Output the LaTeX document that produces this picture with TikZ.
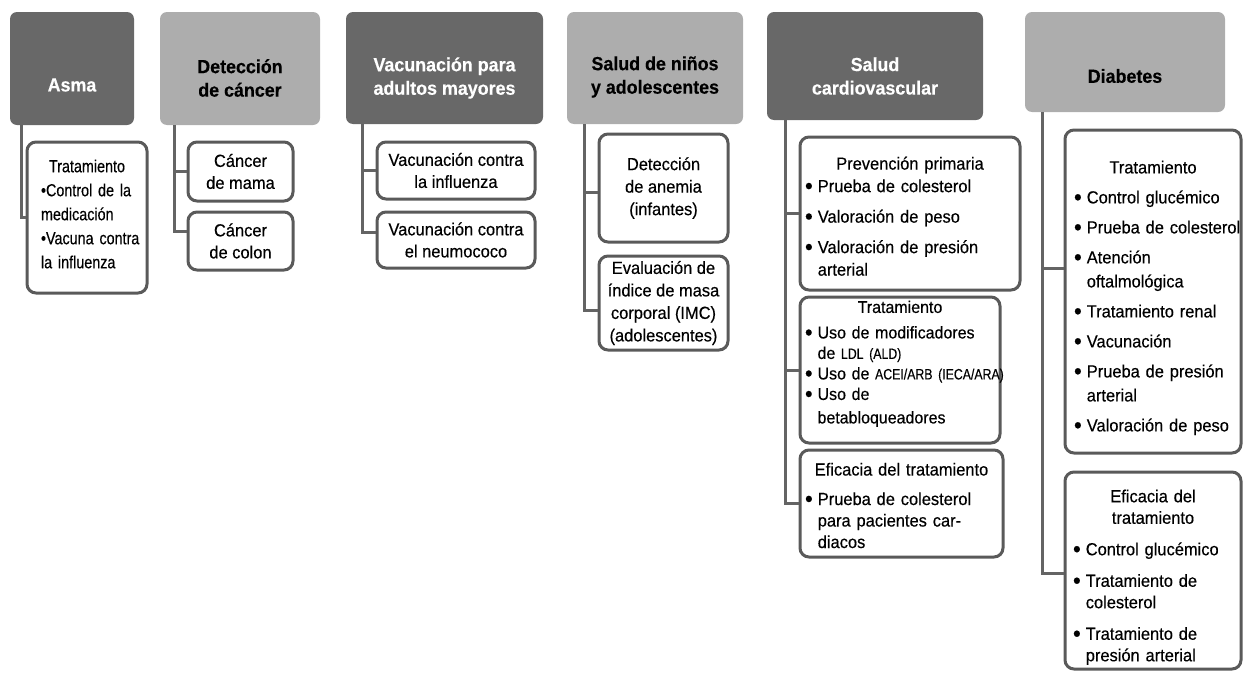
\documentclass[tikz,border=0pt]{standalone}
\usepackage{fontspec}
\setmainfont{Liberation Sans}[FakeStretch=0.94,FakeBold=0.35]
\newfontfamily\narrowfont{Liberation Sans}[FakeStretch=0.82,FakeBold=0.35]
\usetikzlibrary{calc}

\definecolor{hdark}{HTML}{686868}
\definecolor{hlight}{HTML}{ADADAD}
\definecolor{rim}{HTML}{5A5A5A}
\definecolor{tiegray}{HTML}{646464}
\newcommand\bl{\raisebox{-0.1em}{\scalebox{1.35}{\textbullet}}}
\newcommand\acr[1]{{\narrowfont\fontsize{15}{20}\selectfont #1}}
\newcommand\lift[1]{\rule{0pt}{#1}}

\begin{document}
\begin{tikzpicture}[x=1pt,y=-1pt,
    headdark/.style={fill=hdark, rounded corners=7pt, inner sep=0pt},
    headlight/.style={fill=hlight, rounded corners=7pt, inner sep=0pt},
    headtext/.style={font=\fontsize{19}{23.5}\selectfont\bfseries, align=center, inner sep=0pt},
    leaf/.style={draw=rim, line width=3pt, rounded corners=9pt, fill=white, inner ysep=0pt,
      font=\fontsize{17.5}{22}\selectfont},
    simple/.style={leaf, align=center, inner xsep=0pt},
    tie/.style={draw=tiegray, line width=3pt}]

  \useasboundingbox (0,0) rectangle (1244,672);

  %%% header boxes
  \node[headdark, minimum width=124pt, minimum height=113pt] (asma) at (72,68.5) {};
  \node[headlight, minimum width=160pt, minimum height=113pt] (cancer) at (240,68.5) {};
  \node[headdark, minimum width=197pt, minimum height=112pt] (vacuna) at (444.5,68) {};
  \node[headlight, minimum width=176pt, minimum height=112pt] (ninos) at (655,68) {};
  \node[headdark, minimum width=216pt, minimum height=108pt] (cardio) at (875,66) {};
  \node[headlight, minimum width=200pt, minimum height=100pt] (diabetes) at (1125,62) {};

  \node[headtext, text=white] (asmaL) at (asma.center |- 0,85) {Asma};
  \node[headtext] (cancerL) at (cancer.center |- 0,78) {Detección\\de cáncer};
  \node[headtext, text=white] (vacunaL) at (vacuna.center |- 0,78) {Vacunación para\\adultos mayores};
  \node[headtext] (ninosL) at (ninos.center |- 0,77) {Salud de niños\\y adolescentes};
  \node[headtext, text=white] (cardioL) at (cardio.center |- 0,76) {Salud\\cardiovascular};
  \node[headtext] (diabetesL) at (diabetes.center |- 0,76) {Diabetes};

  %%% asma
  \node[leaf, minimum height=151pt, text width=92pt, inner xsep=14pt,
    font=\narrowfont\fontsize{17.5}{24}\selectfont] (asmaT) at (87,217.5) {%
    {\centering Tratamiento\par}
    \noindent\begin{tabular}[t]{@{}l@{}}
      {\textbullet}Control de la\\ medicación\\ {\textbullet}Vacuna contra\\ la influenza
    \end{tabular}};

  %%% cancer
  \node[simple, minimum width=105pt, minimum height=59pt] (cancerA) at (240.5,171.5) {Cáncer\\de mama};
  \node[simple, minimum width=105pt, minimum height=58pt] (cancerB) at (240.5,241) {Cáncer\\de colon};

  %%% vacunacion
  \node[simple, minimum width=158pt, minimum height=57pt] (vacunaA) at (456,170.5) {Vacunación contra\\la influenza};
  \node[simple, minimum width=158pt, minimum height=56pt] (vacunaB) at (456,240) {Vacunación contra\\el neumococo};

  %%% ninos
  \node[simple, minimum width=129pt, minimum height=108pt, font=\fontsize{17.5}{22.5}\selectfont] (ninosA) at (663.5,188) {Detección\\de anemia\\(infantes)};
  \node[simple, minimum width=129pt, minimum height=94pt, font=\fontsize{17.5}{22.5}\selectfont] (ninosB) at (663.5,303) {Evaluación de\\índice de masa\\corporal (IMC)\\(adolescentes)};

  %%% cardio
  \node[leaf, minimum height=153pt, text width=210pt, inner xsep=5pt,
    font=\fontsize{17.5}{22.5}\selectfont] (cardioA) at (910,213.5) {%
    {\centering\lift{25pt}Prevención primaria\par}
    \noindent\begin{tabular}[t]{@{}l@{\hspace{5pt}}l@{}}
      \bl & Prueba de colesterol\\[8pt]
      \bl & Valoración de peso\\[8pt]
      \bl & Valoración de presión\\
          & arterial
    \end{tabular}};
  \node[leaf, minimum height=146pt, text width=190pt, inner xsep=5pt,
    font=\fontsize{17}{20.5}\selectfont] (cardioB) at (900,370) {%
    {\centering Tratamiento\par}
    \vspace{5pt}
    \noindent\begin{tabular}[t]{@{}l@{\hspace{5pt}}l@{}}
      \bl & Uso de modificadores\\
          & de \acr{LDL (ALD)}\\
      \bl & Uso de \acr{ACEI/ARB (IECA/ARA)}\\
      \bl & Uso de\\[3pt]
          & betabloqueadores\rule[-16pt]{0pt}{16pt}
    \end{tabular}};
  \node[leaf, minimum height=107pt, text width=193pt, inner xsep=5pt,
    font=\fontsize{17.5}{21.5}\selectfont] (cardioC) at (901.5,503.5) {%
    {\centering\lift{23pt}Eficacia del tratamiento\par}
    \vspace{8pt}
    \noindent\begin{tabular}[t]{@{}l@{\hspace{5pt}}l@{}}
      \bl & Prueba de colesterol\\
          & para pacientes car-\\
          & diacos
    \end{tabular}};

  %%% diabetes
  \node[leaf, minimum height=323pt, text width=158pt, inner xsep=9pt,
    font=\fontsize{17.5}{24}\selectfont] (diabetesA) at (1153,291.5) {%
    {\centering\lift{29pt}Tratamiento\par}
    \vspace{6pt}
    \noindent\begin{tabular}[t]{@{}l@{\hspace{5pt}}l@{}}
      \bl & Control glucémico\\[6pt]
      \bl & Prueba de colesterol\\[6pt]
      \bl & Atención\\
          & oftalmológica\\[6pt]
      \bl & Tratamiento renal\\[6pt]
      \bl & Vacunación\\[6pt]
      \bl & Prueba de presión\\
          & arterial\\[6pt]
      \bl & Valoración de peso
    \end{tabular}};
  \node[leaf, minimum height=197pt, text width=160pt, inner xsep=8pt,
    font=\fontsize{17.5}{21.5}\selectfont] (diabetesB) at (1153,570.5) {%
    {\centering\lift{29pt}Eficacia del\\ tratamiento\par}
    \vspace{10pt}
    \noindent\begin{tabular}[t]{@{}l@{\hspace{5pt}}l@{}}
      \bl & Control glucémico\\[10pt]
      \bl & Tratamiento de\\
          & colesterol\\[10pt]
      \bl & Tratamiento de\\
          & presión arterial
    \end{tabular}};

  %%% connectors
  \draw[tie] ($(asma.south west)+(12,0)$) |- (asmaT.west);
  \draw[tie] ($(cancer.south west)+(15,0)$) |- (cancerA.west);
  \draw[tie] ($(cancer.south west)+(15,0)$) |- ([yshift=10pt]cancerB.west);
  \draw[tie] ($(vacuna.south west)+(17,0)$) |- (vacunaA.west);
  \draw[tie] ($(vacuna.south west)+(17,0)$) |- ([yshift=8pt]vacunaB.west);
  \draw[tie] ($(ninos.south west)+(18,0)$) |- ([yshift=-4pt]ninosA.west);
  \draw[tie] ($(ninos.south west)+(18,0)$) |- ([yshift=-7pt]ninosB.west);
  \draw[tie] ($(cardio.south west)+(19,0)$) |- (cardioA.west);
  \draw[tie] ($(cardio.south west)+(19,0)$) |- (cardioB.west);
  \draw[tie] ($(cardio.south west)+(19,0)$) |- (cardioC.west);
  \draw[tie] ($(diabetes.south west)+(18,0)$) |- ([yshift=23pt]diabetesA.west);
  \draw[tie] ($(diabetes.south west)+(18,0)$) |- ([yshift=-3pt]diabetesB.west);
\end{tikzpicture}
\end{document}
